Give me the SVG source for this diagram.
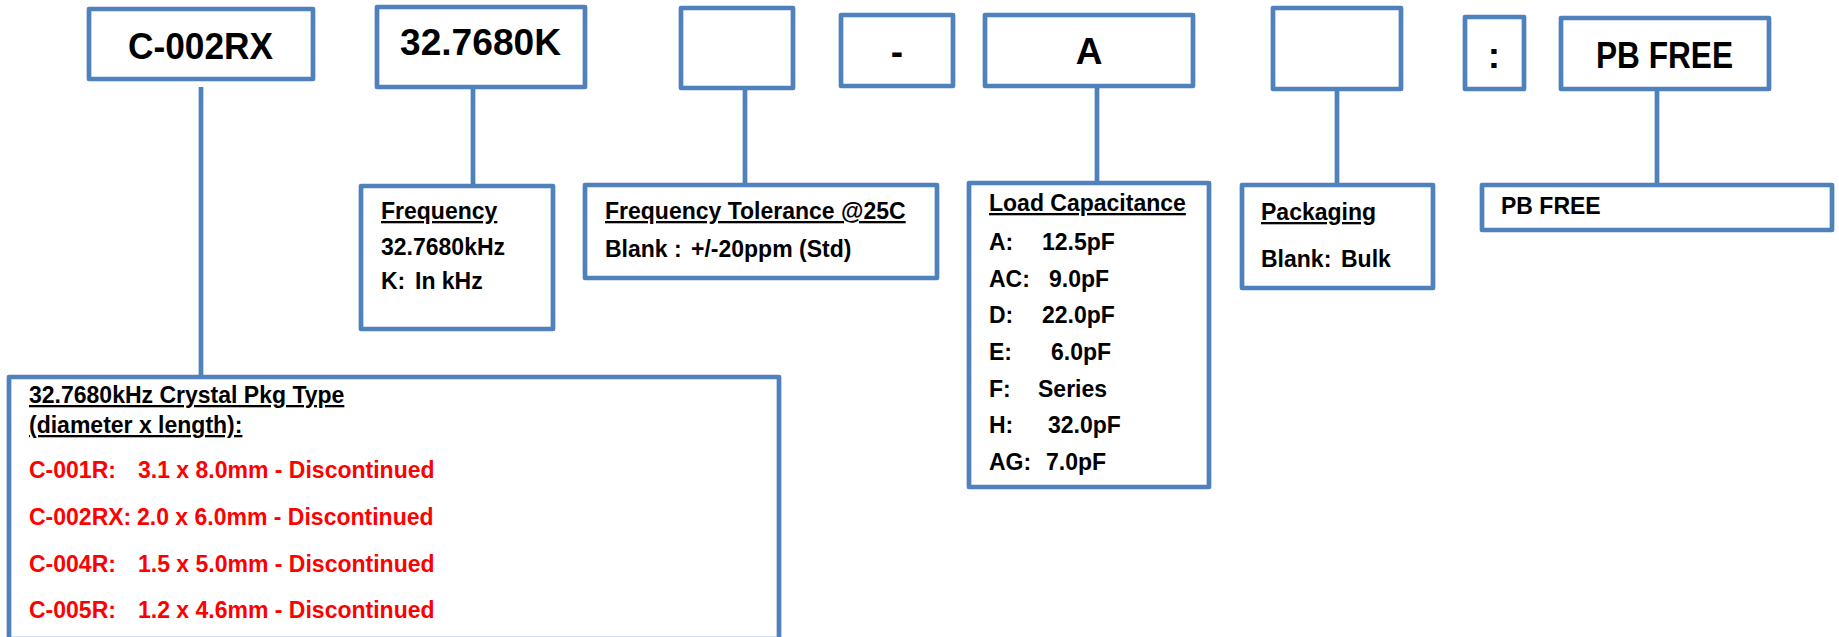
<svg xmlns="http://www.w3.org/2000/svg" width="1839" height="637" viewBox="0 0 1839 637">
<style>
.box{fill:#fff;stroke:#4F81BD;stroke-width:4.7;stroke-linejoin:round}
.ln{stroke:#4F81BD;stroke-width:4.7;fill:none}
text{font-family:"Liberation Sans",Arial,sans-serif;font-weight:bold;fill:#000}
.big{font-size:37px}
.t{font-size:23px}
.u{text-decoration:underline}
.red{fill:#FF0000}
</style>
<rect width="1839" height="637" fill="#fff"/>
<g id="connectors">
<line class="ln" x1="201" y1="87" x2="201" y2="376"/>
<line class="ln" x1="473" y1="88" x2="473" y2="185"/>
<line class="ln" x1="745" y1="89" x2="745" y2="185"/>
<line class="ln" x1="1097" y1="87" x2="1097" y2="183"/>
<line class="ln" x1="1337" y1="90" x2="1337" y2="185"/>
<line class="ln" x1="1657" y1="90" x2="1657" y2="185"/>
</g>
<g id="n-c002rx"><rect class="box" x="89" y="9" width="224" height="70"/><text class="big" x="128" y="59" textLength="145" lengthAdjust="spacingAndGlyphs">C-002RX</text></g>
<g id="n-freq-top"><rect class="box" x="377" y="7" width="208" height="80"/><text class="big" x="400" y="55" textLength="161" lengthAdjust="spacingAndGlyphs">32.7680K</text></g>
<g id="n-tol-top"><rect class="box" x="681" y="8" width="112" height="80"/></g>
<g id="n-dash"><rect class="box" x="841" y="15" width="112" height="71"/><text class="big" x="897" y="64" text-anchor="middle">-</text></g>
<g id="n-load-top"><rect class="box" x="985" y="15" width="208" height="71"/><text class="big" x="1089" y="64" text-anchor="middle">A</text></g>
<g id="n-pkg-top"><rect class="box" x="1273" y="8" width="128" height="81"/></g>
<g id="n-colon"><rect class="box" x="1465" y="17" width="59" height="72"/><text class="big" x="1494" y="68" text-anchor="middle">:</text></g>
<g id="n-pbfree-top"><rect class="box" x="1561" y="18" width="208" height="71"/><text class="big" x="1596" y="68" textLength="137" lengthAdjust="spacingAndGlyphs">PB FREE</text></g>
<g id="n-frequency"><rect class="box" x="361" y="186" width="192" height="143"/>
<text class="t u" x="381" y="219">Frequency</text>
<text class="t" x="381" y="255">32.7680kHz</text>
<text class="t" x="381" y="289">K:<tspan x="415">In kHz</tspan></text>
</g>
<g id="n-tolerance"><rect class="box" x="585" y="185" width="352" height="93"/>
<text class="t u" x="605" y="219">Frequency Tolerance @25C</text>
<text class="t" x="605" y="257">Blank :<tspan x="691">+/-20ppm (Std)</tspan></text>
</g>
<g id="n-load"><rect class="box" x="969" y="183" width="240" height="304"/>
<text class="t u" x="989" y="211">Load Capacitance</text>
<text class="t" x="989" y="250">A:<tspan x="1042">12.5pF</tspan></text>
<text class="t" x="989" y="287">AC:<tspan x="1049">9.0pF</tspan></text>
<text class="t" x="989" y="323">D:<tspan x="1042">22.0pF</tspan></text>
<text class="t" x="989" y="360">E:<tspan x="1051">6.0pF</tspan></text>
<text class="t" x="989" y="397">F:<tspan x="1038">Series</tspan></text>
<text class="t" x="989" y="433">H:<tspan x="1048">32.0pF</tspan></text>
<text class="t" x="989" y="470">AG:<tspan x="1046">7.0pF</tspan></text>
</g>
<g id="n-packaging"><rect class="box" x="1242" y="185" width="191" height="103"/>
<text class="t u" x="1261" y="220">Packaging</text>
<text class="t" x="1261" y="267">Blank:<tspan x="1341">Bulk</tspan></text>
</g>
<g id="n-pbfree"><rect class="box" x="1482" y="185" width="350" height="45"/>
<text class="t" x="1501" y="214">PB FREE</text>
</g>
<g id="n-pkgtype"><rect class="box" x="9" y="377" width="770" height="262"/>
<text class="t u" x="29" y="403">32.7680kHz Crystal Pkg Type</text>
<text class="t u" x="29" y="433">(diameter x length):</text>
<text class="t red" x="29" y="478">C-001R:<tspan x="138">3.1 x 8.0mm - Discontinued</tspan></text>
<text class="t red" x="29" y="525">C-002RX:<tspan x="137">2.0 x 6.0mm - Discontinued</tspan></text>
<text class="t red" x="29" y="572">C-004R:<tspan x="138">1.5 x 5.0mm - Discontinued</tspan></text>
<text class="t red" x="29" y="618">C-005R:<tspan x="138">1.2 x 4.6mm - Discontinued</tspan></text>
</g>
</svg>
